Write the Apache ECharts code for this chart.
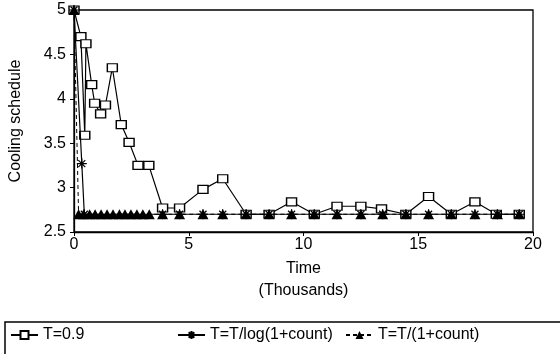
<!DOCTYPE html>
<html>
<head>
<meta charset="utf-8">
<script src="https://cdn.jsdelivr.net/npm/echarts@6/dist/echarts.min.js"></script>
<style>
  html, body { margin: 0; padding: 0; background: #fff; }
  #chart { width: 560px; height: 354px; }
</style>
</head>
<body>
<div id="chart"></div>
<script>
// data (time in thousands)
var seriesNames = ["T=0.9", "T=T/log(1+count)", "T=T/(1+count)"];

var fixedX = [0, 0.3, 0.47, 0.52, 0.77, 0.9, 1.16, 1.37, 1.67, 2.06, 2.4, 2.79, 3.26, 3.86, 4.6, 5.62, 6.48, 7.5, 8.5, 9.48, 10.47, 11.46, 12.5, 13.4, 14.46, 15.45, 16.44, 17.47, 18.4, 19.4];
var fixedY = [5, 4.7, 3.59, 4.62, 4.16, 3.95, 3.83, 3.93, 4.35, 3.71, 3.51, 3.25, 3.25, 2.77, 2.77, 2.98, 3.1, 2.7, 2.7, 2.84, 2.7, 2.79, 2.79, 2.76, 2.7, 2.9, 2.7, 2.84, 2.7, 2.7];

var logX = [0, 0.34, 0.45, 3.86, 4.6, 5.62, 6.48, 7.5, 8.5, 9.48, 10.47, 11.46, 12.5, 13.45, 14.46, 15.45, 16.44, 17.47, 18.45, 19.4];
var logY = [5, 3.27, 2.7, 2.7, 2.7, 2.7, 2.7, 2.7, 2.7, 2.7, 2.7, 2.7, 2.7, 2.7, 2.7, 2.7, 2.7, 2.7, 2.7, 2.7];

var divX = [0, 0.2, 0.42, 0.68, 0.92, 1.18, 1.44, 1.7, 1.98, 2.22, 2.48, 2.74, 3.0, 3.28, 3.86, 4.6, 5.62, 6.48, 7.5, 8.5, 9.48, 10.47, 11.46, 12.5, 13.45, 14.46, 15.45, 16.44, 17.47, 18.45, 19.4];
var divY = [5, 2.7, 2.7, 2.7, 2.7, 2.7, 2.7, 2.7, 2.7, 2.7, 2.7, 2.7, 2.7, 2.7, 2.7, 2.7, 2.7, 2.7, 2.7, 2.7, 2.7, 2.7, 2.7, 2.7, 2.7, 2.7, 2.7, 2.7, 2.7, 2.7, 2.7];

var xTicks = [0, 5, 10, 15, 20];
var yTicks = [2.5, 3, 3.5, 4, 4.5, 5];

function pairs(xs, ys) {
  return xs.map(function (x, i) { return [x, ys[i]]; });
}

var font = "Liberation Sans";
var asterisk = "path://M0,5L10,5M5,0L5,10M1.5,1.5L8.5,8.5M8.5,1.5L1.5,8.5";

var chart = echarts.init(document.getElementById("chart"));
chart.setOption({
  animation: false,
  backgroundColor: "#fff",
  textStyle: { fontFamily: font, color: "#000" },
  grid: {
    left: 66, right: 27, top: 10, bottom: 122,
    show: true, borderColor: "#000", borderWidth: 1.3
  },
  xAxis: {
    type: "value",
    min: xTicks[0], max: xTicks[xTicks.length - 1], interval: 5,
    name: "Time\n(Thousands)",
    nameLocation: "middle",
    nameGap: 19,
    nameTextStyle: { fontSize: 16, lineHeight: 22, color: "#000", fontFamily: font },
    axisLine: { lineStyle: { color: "#000", width: 1.3 } },
    axisTick: { show: true, length: 4, lineStyle: { color: "#000" } },
    axisLabel: { fontSize: 16, color: "#000", margin: 5, fontFamily: font },
    splitLine: { show: false }
  },
  yAxis: {
    type: "value",
    min: yTicks[0], max: yTicks[yTicks.length - 1], interval: 0.5,
    name: "Cooling schedule",
    nameLocation: "middle",
    nameGap: 50,
    nameTextStyle: { fontSize: 16, color: "#000", fontFamily: font },
    axisLine: { show: true, lineStyle: { color: "#000", width: 1.3 } },
    axisTick: { show: true, length: 4, lineStyle: { color: "#000" } },
    axisLabel: { fontSize: 16, color: "#000", margin: 8, fontFamily: font },
    splitLine: { show: false }
  },
  legend: [
    { data: [seriesNames[0]], left: 5, top: 322 },
    { data: [seriesNames[1]], left: 172, top: 322 },
    { data: [seriesNames[2]], left: 340, top: 322 }
  ].map(function (l) {
    l.itemWidth = 27;
    l.itemHeight = 10;
    l.itemGap = 5;
    l.textStyle = { fontSize: 16, color: "#000", fontFamily: font };
    return l;
  }),
  graphic: [{
    type: "rect",
    shape: { x: 5, y: 322, width: 620, height: 80 },
    style: { fill: "none", stroke: "#000", lineWidth: 1.5 }
  }],
  series: [
    {
      name: seriesNames[0],
      type: "line",
      data: pairs(fixedX, fixedY),
      symbol: "rect",
      symbolSize: [10, 8],
      lineStyle: { color: "#000", width: 1.2 },
      itemStyle: { color: "#fff", borderColor: "#000", borderWidth: 1.3 },
      z: 2
    },
    {
      name: seriesNames[1],
      type: "line",
      data: pairs(logX, logY),
      symbol: asterisk,
      symbolSize: 10,
      lineStyle: { color: "#000", width: 1.2 },
      itemStyle: { color: "#000", borderColor: "#000", borderWidth: 1.2 },
      z: 3
    },
    {
      name: seriesNames[2],
      type: "line",
      data: pairs(divX, divY),
      symbol: "triangle",
      symbolSize: [11, 10],
      lineStyle: { color: "#000", width: 1, type: [4, 3] },
      itemStyle: { color: "#000" },
      z: 4
    }
  ]
});
</script>
</body>
</html>
